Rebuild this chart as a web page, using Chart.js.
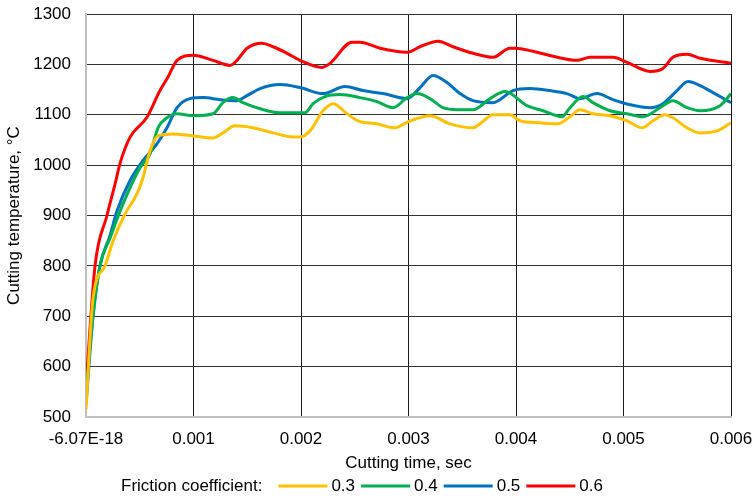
<!DOCTYPE html>
<html>
<head>
<meta charset="utf-8">
<script src="https://cdn.jsdelivr.net/npm/chart.js@4.4.1/dist/chart.umd.min.js"></script>
<style>
  html, body { margin: 0; padding: 0; background: #fff; }
  #wrap { width: 752px; height: 497px; position: relative; }
</style>
</head>
<body>
<div id="wrap"><canvas id="grafica"></canvas></div>
<script>
// Datos (tiempo en segundos, temperatura en °C)
const etiquetasSerie = ['0.3', '0.4', '0.5', '0.6'];
const coloresSerie = ['#FFC000', '#00B050', '#0070C0', '#FF0000'];

const tiempo03 = [0, 0.000065, 0.000177, 0.000251, 0.000363, 0.000474, 0.00053, 0.000595, 0.00067, 0.000809, 0.000995, 0.001181, 0.001274, 0.001386, 0.001553, 0.00174, 0.001926, 0.001991, 0.002084, 0.002205, 0.002298, 0.002428, 0.00253, 0.002707, 0.002874, 0.002995, 0.0032, 0.003386, 0.0036, 0.003665, 0.003786, 0.003944, 0.004037, 0.004223, 0.004391, 0.004502, 0.004595, 0.004716, 0.004874, 0.005033, 0.005172, 0.005274, 0.005386, 0.00546, 0.005591, 0.005712, 0.00587, 0.006];
const temp03 = [516, 735, 800, 849, 903, 943, 975, 1028, 1058, 1062, 1058, 1054, 1064, 1078, 1074, 1064, 1056, 1056, 1068, 1108, 1122, 1102, 1088, 1082, 1074, 1086, 1098, 1082, 1074, 1082, 1100, 1100, 1088, 1084, 1082, 1096, 1110, 1102, 1098, 1088, 1074, 1088, 1100, 1094, 1074, 1064, 1068, 1084];

const tiempo04 = [0, 0.000065, 0.00013, 0.000223, 0.000344, 0.000502, 0.000595, 0.00067, 0.000753, 0.000847, 0.000995, 0.001181, 0.001274, 0.001367, 0.00146, 0.001619, 0.001805, 0.002037, 0.002112, 0.002223, 0.002363, 0.002549, 0.002707, 0.002856, 0.002986, 0.003079, 0.0032, 0.003321, 0.003451, 0.0036, 0.003758, 0.003898, 0.004102, 0.004251, 0.004428, 0.004502, 0.004623, 0.004716, 0.004874, 0.005033, 0.005181, 0.00534, 0.00546, 0.005591, 0.005712, 0.005898, 0.006];
const temp04 = [545, 700, 800, 855, 923, 995, 1022, 1074, 1094, 1102, 1098, 1102, 1124, 1134, 1124, 1112, 1104, 1104, 1122, 1136, 1140, 1134, 1126, 1114, 1134, 1142, 1132, 1114, 1110, 1110, 1132, 1146, 1118, 1108, 1096, 1114, 1136, 1124, 1108, 1102, 1096, 1114, 1128, 1114, 1108, 1118, 1142];

const tiempo05 = [0, 0.000065, 0.00013, 0.000223, 0.000288, 0.000409, 0.00053, 0.00066, 0.000753, 0.000847, 0.000967, 0.001088, 0.001247, 0.001405, 0.001498, 0.001619, 0.001805, 0.001991, 0.002205, 0.002409, 0.002577, 0.002763, 0.002986, 0.003107, 0.003228, 0.003358, 0.003479, 0.0036, 0.003786, 0.003972, 0.00413, 0.004316, 0.004474, 0.004595, 0.004753, 0.004902, 0.00506, 0.005247, 0.005367, 0.005498, 0.0056, 0.005712, 0.005833, 0.006];
const temp05 = [525, 700, 800, 860, 909, 969, 1009, 1042, 1074, 1114, 1132, 1134, 1130, 1128, 1138, 1152, 1160, 1154, 1142, 1156, 1148, 1142, 1132, 1154, 1178, 1164, 1142, 1128, 1124, 1148, 1152, 1148, 1142, 1132, 1142, 1130, 1120, 1114, 1122, 1148, 1166, 1158, 1144, 1124];

const tiempo06 = [0, 0.000084, 0.000195, 0.000279, 0.000316, 0.000409, 0.000567, 0.000688, 0.000763, 0.000847, 0.000995, 0.001181, 0.00134, 0.001405, 0.001498, 0.001637, 0.00174, 0.00187, 0.001991, 0.002195, 0.00227, 0.002474, 0.002549, 0.002735, 0.002986, 0.003107, 0.003274, 0.003414, 0.0036, 0.003786, 0.003944, 0.003991, 0.004158, 0.004344, 0.004567, 0.004688, 0.004902, 0.005033, 0.005247, 0.005367, 0.00546, 0.005591, 0.005712, 0.006];
const temp06 = [560, 800, 900, 970, 1003, 1055, 1095, 1148, 1175, 1208, 1218, 1208, 1198, 1208, 1232, 1242, 1235, 1222, 1208, 1194, 1202, 1244, 1244, 1232, 1224, 1235, 1246, 1235, 1222, 1214, 1232, 1232, 1226, 1216, 1208, 1214, 1214, 1204, 1186, 1192, 1214, 1220, 1212, 1202];

const tiemposSerie = [tiempo03, tiempo04, tiempo05, tiempo06];
const tempsSerie = [temp03, temp04, temp05, temp06];

const fuente = "'Liberation Sans', Arial, sans-serif";

// Leyenda dibujada a mano, con el texto "Friction coefficient:" delante
const leyendaAbajo = {
    id: 'leyendaAbajo',
    afterDraw(chart) {
        const ctx = chart.ctx;
        const y = 486;
        ctx.save();
        ctx.font = '17px ' + fuente;
        ctx.fillStyle = '#000';
        ctx.textBaseline = 'middle';
        ctx.textAlign = 'left';
        let x = 121;
        const titulo = 'Friction coefficient:';
        ctx.fillText(titulo, x, y);
        x += ctx.measureText(titulo).width + 16;
        chart.data.datasets.forEach(ds => {
            ctx.strokeStyle = ds.borderColor;
            ctx.lineWidth = 3;
            ctx.beginPath();
            ctx.moveTo(x, y);
            ctx.lineTo(x + 49, y);
            ctx.stroke();
            x += 53;
            ctx.fillText(ds.label, x, y);
            x += ctx.measureText(ds.label).width + 6;
        });
        ctx.restore();
    }
};

new Chart(document.getElementById('grafica'), {
    type: 'line',
    data: {
        datasets: etiquetasSerie.map((lbl, i) => ({
            label: lbl,
            data: tiemposSerie[i].map((t, j) => ({ x: t, y: tempsSerie[i][j] })),
            borderColor: coloresSerie[i],
            backgroundColor: coloresSerie[i],
            borderWidth: 3,
            pointRadius: 0,
            cubicInterpolationMode: 'monotone',
            fill: false
        }))
    },
    options: {
        responsive: true,
        maintainAspectRatio: false,
        animation: false,
        layout: { padding: { left: 0, top: 14, right: 21, bottom: 20 } },
        plugins: {
            legend: { display: false },
            tooltip: { enabled: false }
        },
        scales: {
            x: {
                type: 'linear',
                min: 0,
                max: 0.006,
                // el área del gráfico se fija a mano: sin relleno extra por las etiquetas
                afterFit: s => { s.height = 60; s.paddingLeft = 0; s.paddingRight = 0; },
                ticks: {
                    stepSize: 0.001,
                    autoSkip: false,
                    maxRotation: 0,
                    padding: 12,
                    color: '#000',
                    font: { family: fuente, size: 17 },
                    callback: v => (v === 0 ? '-6.07E-18' : v.toFixed(3))
                },
                grid: {
                    drawTicks: false,
                    color: c => (c.tick && c.tick.value === 0 ? 'rgba(0,0,0,0)' : '#1a1a1a'),
                    lineWidth: 1
                },
                border: { color: '#BFBFBF', width: 2 },
                title: {
                    display: true,
                    text: 'Cutting time, sec',
                    color: '#000',
                    font: { family: fuente, size: 17 },
                    padding: { top: 0, bottom: 3 }
                }
            },
            y: {
                min: 500,
                max: 1300,
                afterFit: s => { s.width = 86; s.paddingTop = 0; s.paddingBottom = 0; },
                ticks: {
                    stepSize: 100,
                    padding: 15,
                    color: '#000',
                    font: { family: fuente, size: 17 },
                    callback: v => String(v)
                },
                grid: {
                    drawTicks: false,
                    color: c => (c.tick && c.tick.value === 500 ? 'rgba(0,0,0,0)' : '#333333'),
                    lineWidth: 1
                },
                border: { color: '#BFBFBF', width: 2 },
                title: {
                    display: true,
                    text: 'Cutting temperature, °C',
                    color: '#000',
                    font: { family: fuente, size: 17 },
                    padding: { top: 4, bottom: 0 }
                }
            }
        }
    },
    plugins: [leyendaAbajo]
});
</script>
</body>
</html>
